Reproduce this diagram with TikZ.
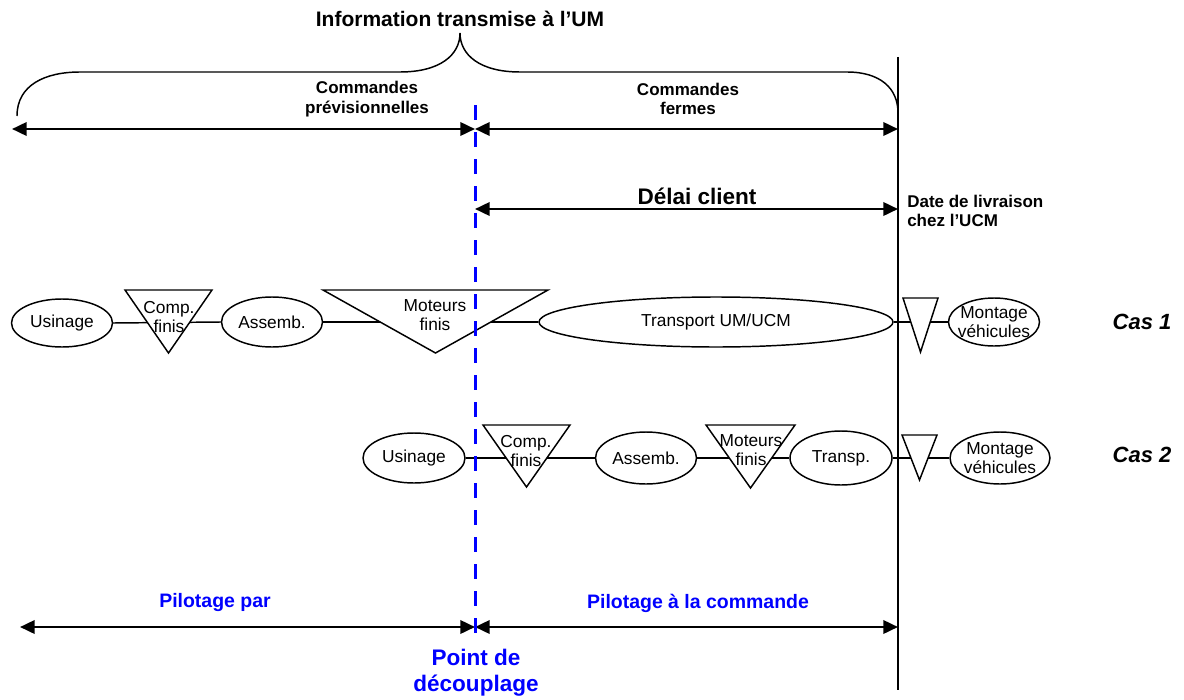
\documentclass[tikz,border=0pt]{standalone}
\usepackage{fontspec}
\setmainfont{Liberation Sans}
\usetikzlibrary{shapes.geometric,arrows.meta}
\pgfdeclarelayer{background}
\pgfdeclarelayer{foreground}
\pgfsetlayers{background,main,foreground}
\newcommand\fs[2]{\fontsize{#1}{#2}\selectfont}
\definecolor{pblue}{RGB}{0,0,255}
\tikzset{
  ell/.style={ellipse, draw, line width=1.1pt, fill=white, inner sep=0pt, align=center, font=\fs{13}{14.5}},
  trif/.style={inner sep=0pt, outer sep=0pt},
  tri/.style={draw, line width=1.1pt, fill=white, line join=miter},
  ttxt/.style={align=center, inner sep=0pt, font=\fs{13}{14.5}},
  conn/.style={line width=1.1pt},
  dbl/.style={line width=1.9pt, {Triangle[length=11pt,width=10pt]}-{Triangle[length=11pt,width=10pt]}},
  lbl/.style={align=center, inner sep=0pt, font=\bfseries\fs{12.75}{14.5}},
  blbl/.style={align=center, inner sep=0pt, text=pblue, font=\bfseries\fs{14.6}{17}},
  cas/.style={inner sep=0pt, font=\bfseries\itshape\fs{16.5}{19}},
}
\begin{document}
\begin{tikzpicture}[x=0.75pt,y=-0.75pt]
\useasboundingbox (0,0) rectangle (1184,699);

% title and brace
\node[inner sep=0pt, font=\bfseries\fs{15.75}{18}] (title) at (460,19) {Information transmise à l’UM};
\draw[line width=1.1pt] (17,116) .. controls (17,85) and (45,72) .. (80,72) -- (400,72)
  .. controls (440,72) and (460,55) .. (460,33)
  .. controls (460,55) and (480,72) .. (520,72) -- (847,72)
  .. controls (880,72) and (898,88) .. (898,113);

% vertical delivery line
\coordinate (vT) at (898,57);
\coordinate (vB) at (898,690);
\draw[line width=0.9pt] (vT) -- (vB);

% top arrows
\coordinate (aL) at (12,129);
\coordinate (aM) at (475,129);
\coordinate (aR) at (898,129);
\draw[dbl] (aL) -- (aM);
\draw[dbl] (aM) -- (aR);
\node[lbl] (cprev) at (367,99) {Commandes\\prévisionnelles};
\node[lbl] (cferm) at (688,99) {Commandes\\fermes};

% delai client
\coordinate (dM) at (475,209);
\coordinate (dR) at (898,209);
\draw[dbl] (dM) -- (dR);
\node[inner sep=0pt, font=\bfseries\fs{16.9}{19}] (delai) at (697,196) {Délai client};
\node[lbl, align=left, anchor=west] (date) at (907,211) {Date de livraison\\chez l’UCM};

% Cas 1
\node[ell, minimum width=75.75pt, minimum height=36pt] (us1) at (62,323) {Usinage};
\node[trif, minimum width=65.25pt, minimum height=47.25pt] (c1) at (168.5,321.5) {};
\draw[tri] (c1.north west) -- (c1.north east) -- (c1.south) -- cycle;
\node[ttxt] (c1t) at (169,317) {Comp.\\finis};
\node[ell, minimum width=75.75pt, minimum height=37.5pt] (as1) at (272,322) {Assemb.};
\node[trif, minimum width=168.75pt, minimum height=47.25pt] (m1) at (435.5,321.5) {};
\draw[tri] (m1.north west) -- (m1.north east) -- (m1.south) -- cycle;
\node[ttxt] (m1t) at (435,315) {Moteurs\\finis};
\node[ell, minimum width=265.5pt, minimum height=37.5pt] (tr1) at (716,322) {Transport UM/UCM};
\node[trif, minimum width=26.25pt, minimum height=40.5pt] (s1) at (920.5,325) {};
\draw[tri] (s1.north west) -- (s1.north east) -- (s1.south) -- cycle;
\node[ell, minimum width=68.25pt, minimum height=36pt, label={[ttxt]center:Montage\\véhicules}] (mv1) at (994,322) {};
\node[cas] (cas1) at (1142,322) {Cas 1};

% Cas 2
\node[ell, minimum width=76.5pt, minimum height=37.5pt] (us2) at (414,458) {Usinage};
\node[trif, minimum width=65.25pt, minimum height=46.5pt] (c2) at (526.5,456) {};
\draw[tri] (c2.north west) -- (c2.north east) -- (c2.south) -- cycle;
\node[ttxt] (c2t) at (526,451) {Comp.\\finis};
\node[ell, minimum width=75.75pt, minimum height=39pt] (as2) at (646,458) {Assemb.};
\node[trif, minimum width=66.75pt, minimum height=47.25pt] (m2) at (750.5,456.5) {};
\draw[tri] (m2.north west) -- (m2.north east) -- (m2.south) -- cycle;
\node[ttxt] (m2t) at (751,450) {Moteurs\\finis};
\node[ell, minimum width=76.5pt, minimum height=40.5pt] (tp2) at (841,458) {Transp.};
\node[trif, minimum width=26.25pt, minimum height=33.75pt] (s2) at (919.5,457.5) {};
\draw[tri] (s2.north west) -- (s2.north east) -- (s2.south) -- cycle;
\node[ell, minimum width=75pt, minimum height=39pt, label={[ttxt]center:Montage\\véhicules}] (mv2) at (1000,458) {};
\node[cas] (cas2) at (1142,455) {Cas 2};

% connectors (behind shapes)
\begin{pgfonlayer}{background}
\draw[conn] (us1.east) -- (as1.west);
\draw[conn] (as1.east) -- (tr1.west);
\draw[conn] (tr1.east) -- (mv1.west);
\draw[conn] (us2.east) -- (as2.west);
\draw[conn] (as2.east) -- (tp2.west);
\draw[conn] (tp2.east) -- (mv2.west);
\end{pgfonlayer}

% bottom arrows
\coordinate (bL) at (20,627);
\coordinate (bM) at (475,627);
\coordinate (bR) at (898,627);
\draw[dbl] (bL) -- (bM);
\draw[dbl] (bM) -- (bR);
\node[blbl] (pp) at (215,603) {Pilotage par};
\node[blbl] (pc) at (698,603) {Pilotage à la commande};
\node[blbl, font=\bfseries\fs{16.9}{19.5}] (pdc) at (476,673) {Point de\\découplage};

% decoupling dashed line
\coordinate (dT) at (475,105);
\coordinate (dB) at (475,641);
\begin{pgfonlayer}{foreground}
\draw[pblue, line width=2.25pt, dash pattern=on 11.25pt off 9pt] (dT) -- (dB);
\end{pgfonlayer}
\end{tikzpicture}
\end{document}
